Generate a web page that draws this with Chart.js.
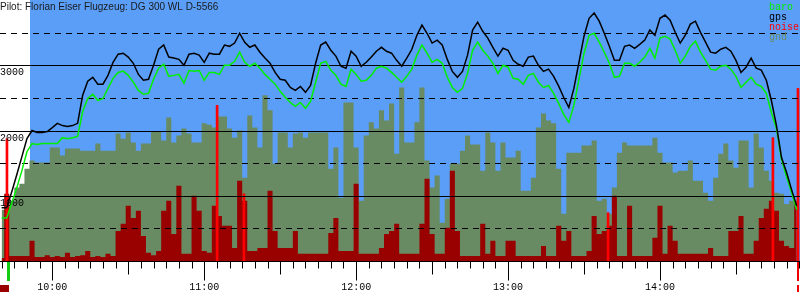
<!DOCTYPE html>
<html>
<head>
<meta charset="utf-8">
<script src="https://cdn.jsdelivr.net/npm/chart.js@4/dist/chart.umd.min.js"></script>
<style>
  html, body { margin: 0; padding: 0; background: #fff; }
  #wrap { width: 800px; height: 300px; }
</style>
</head>
<body>
<div id="wrap"><canvas id="baroChart" width="800" height="300"></canvas></div>
<script>
// Barogramm - Zeit in Minuten seit 0:00, Hoehen in m
const qs = s => document.querySelector(s);

const title = "Pilot: Florian Eiser Flugzeug: DG 300 WL D-5566";
const tStart = 580, tStep = 2;          // Abtastung alle 2 min ab 9:40
const xMin = 579.35, xMax = 895.3;
const releaseTime = 591.2;              // ab hier blauer Himmel
const takeoffTime = 582.5, landingTime = 894.5;

const gps = [815, 815, 1060, 1325, 1600, 1875, 2000, 1970, 1970, 1985,
  2045, 2110, 2075, 2060, 2075, 2110, 2540, 2755, 2815, 2710,
  2710, 2845, 3045, 3170, 3185, 3125, 3030, 2860, 2770, 2785,
  3000, 3245, 3310, 3125, 3110, 3090, 3000, 3170, 3185, 3155,
  3045, 3185, 3170, 3170, 3310, 3290, 3340, 3490, 3350, 3275,
  3310, 3200, 3110, 3030, 2890, 2785, 2770, 2660, 2615, 2675,
  2585, 2690, 3030, 3310, 3355, 3230, 3140, 2985, 2955, 3215,
  3140, 2985, 3045, 3125, 3215, 3275, 3215, 3185, 3075, 2985,
  3110, 3245, 3460, 3615, 3490, 3340, 3385, 3310, 3090, 2905,
  2815, 2905, 3155, 3540, 3660, 3520, 3415, 3275, 3140, 3260,
  3230, 3075, 3015, 2985, 3125, 3140, 3000, 2905, 2940, 2830,
  2680, 2505, 2355, 2645, 3045, 3445, 3720, 3800, 3675, 3490,
  3290, 3075, 3075, 3290, 3310, 3260, 3320, 3385, 3540, 3460,
  3720, 3770, 3690, 3505, 3340, 3460, 3630, 3675, 3505, 3355,
  3200, 3185, 3245, 3275, 3215, 3075, 2890, 2970, 3110, 2955,
  2925, 2770, 2460, 2075, 1585, 1355, 1090, 845];

const baro = [660, 660, 890, 1125, 1385, 1675, 1800, 1785, 1800, 1800,
  1800, 1800, 1890, 1875, 1890, 1910, 2290, 2490, 2555, 2460,
  2490, 2645, 2800, 2890, 2910, 2845, 2740, 2615, 2555, 2570,
  2785, 2955, 3015, 2830, 2845, 2860, 2725, 2920, 2910, 2920,
  2770, 2890, 2890, 2860, 3000, 3000, 3060, 3200, 3045, 2985,
  3030, 2955, 2860, 2785, 2710, 2600, 2510, 2430, 2370, 2430,
  2340, 2445, 2740, 3030, 3060, 2925, 2845, 2710, 2675, 2940,
  2860, 2755, 2770, 2845, 2955, 2985, 2955, 2890, 2815, 2740,
  2830, 2940, 3155, 3310, 3185, 3045, 3090, 3030, 2815, 2660,
  2585, 2645, 2875, 3230, 3355, 3230, 3140, 3030, 2875, 3000,
  2970, 2800, 2785, 2710, 2845, 2875, 2740, 2660, 2690, 2570,
  2415, 2245, 2125, 2385, 2785, 3185, 3460, 3490, 3355, 3200,
  3030, 2815, 2830, 3030, 3030, 2985, 3045, 3125, 3260, 3110,
  3415, 3445, 3400, 3230, 3030, 3140, 3290, 3370, 3200, 3075,
  2940, 2925, 2985, 3000, 2940, 2830, 2660, 2740, 2815, 2710,
  2675, 2570, 2275, 2030, 1555, 1290, 1045, 785];

const gnd = [785, 785, 925, 1125, 1185, 1415, 1540, 1510, 1510, 1510,
  1740, 1740, 1615, 1725, 1725, 1725, 1690, 1690, 1690, 1800,
  1690, 1690, 1690, 1955, 1875, 1970, 1815, 1690, 1800, 1800,
  1985, 1985, 1845, 2200, 1815, 1925, 2030, 1955, 1815, 1815,
  2110, 2090, 2045, 2215, 2215, 2030, 1890, 2000, 1275, 2230,
  2045, 1740, 2540, 2310, 1490, 1970, 1970, 1740, 1955, 1970,
  1890, 1970, 1970, 1970, 1970, 1415, 1740, 970, 2430, 2430,
  1740, 925, 1925, 2125, 2030, 2310, 2155, 2415, 1645, 2660,
  1815, 1815, 2125, 2660, 1540, 1125, 1310, 585, 955, 1490,
  1490, 1690, 1925, 1785, 1785, 1385, 1970, 1815, 1385, 1815,
  1585, 1585, 1690, 1075, 1075, 1275, 2045, 2260, 2155, 2110,
  1415, 725, 1660, 1660, 1660, 1770, 1770, 1845, 925, 955,
  725, 1125, 1660, 1815, 1770, 1770, 1770, 1770, 1770, 1890,
  1660, 1510, 1510, 1355, 1385, 1385, 1540, 1230, 1230, 1045,
  925, 1275, 1645, 1800, 1540, 1430, 1845, 1845, 1125, 1955,
  1740, 1385, 1230, 1045, 1030, 875, 925, 800];

const noise = [46, 1030, 75, 75, 75, 75, 310, 60, 60, 90,
  60, 75, 60, 125, 60, 75, 90, 155, 60, 75,
  60, 110, 75, 460, 570, 845, 660, 770, 385, 125,
  90, 155, 770, 925, 415, 1155, 110, 110, 1000, 770,
  155, 125, 845, 690, 540, 540, 200, 1230, 925, 155,
  155, 200, 200, 1075, 460, 200, 200, 200, 460, 110,
  110, 110, 110, 110, 110, 430, 660, 155, 155, 155,
  1185, 110, 110, 110, 110, 200, 415, 460, 570, 110,
  110, 110, 110, 570, 1260, 415, 110, 110, 510, 1385,
  460, 75, 75, 75, 75, 570, 110, 310, 75, 75,
  310, 310, 75, 75, 75, 75, 75, 230, 75, 75,
  540, 310, 460, 75, 75, 75, 155, 690, 415, 460,
  540, 1000, 75, 75, 845, 75, 75, 75, 75, 355,
  845, 110, 540, 310, 110, 110, 110, 110, 110, 110,
  200, 75, 75, 75, 460, 460, 690, 110, 110, 310,
  660, 800, 925, 770, 310, 230, 200, 925];

// einzelne helle Laermspitzen
const spikeTimes = [582.1, 665.1, 675.7, 819.5, 884.6, 894.5];
const spikeValues = [1875, 2385, 1030, 740, 1890, 2645];

const yGrid = [500, 1000, 1500, 2000, 2500, 3000, 3500];
const hourLabels = ["10:00", "11:00", "12:00", "13:00", "14:00"];

const times = gps.map((_, i) => tStart + i * tStep);
const pts = arr => arr.map((v, i) => ({ x: times[i], y: v }));

const COL = { sky: "#5a9ef7", gnd: "#698b63", noise: "#990000", spike: "#ff0000", baro: "#00ee00", gps: "#000000" };
const MONO = "10px 'Liberation Mono', 'DejaVu Sans Mono', monospace";

/* ---------- sky background after release ---------- */
const skyPlugin = {
  id: "sky",
  beforeDatasetsDraw(chart) {
    const { ctx, chartArea: a, scales: { x } } = chart;
    const x0 = x.getPixelForValue(releaseTime);
    ctx.save();
    ctx.fillStyle = COL.sky;
    ctx.fillRect(x0, a.top, a.right - x0, a.bottom - a.top);
    ctx.restore();
  }
};

/* ---------- grid over ground/noise, under the lines ---------- */
const gridPlugin = {
  id: "grid",
  beforeDatasetDraw(chart, args) {
    if (chart.data.datasets[args.index].label !== "baro") return;
    const { ctx, chartArea: a, scales: { y } } = chart;
    ctx.save();
    ctx.strokeStyle = "#000";
    ctx.lineWidth = 1;
    ctx.font = MONO;
    ctx.fillStyle = "#000";
    ctx.textBaseline = "top";
    yGrid.forEach(v => {
      const py = Math.round(y.getPixelForValue(v)) + 0.5;
      const major = v % 1000 === 0;
      ctx.setLineDash(major ? [] : [6, 5]);
      ctx.beginPath();
      ctx.moveTo(a.left, py);
      ctx.lineTo(a.right, py);
      ctx.stroke();
      if (major) ctx.fillText(String(v), 0, py + 2);
    });
    ctx.restore();
  }
};

/* ---------- time axis, title, legend, markers ---------- */
const framePlugin = {
  id: "frame",
  afterDraw(chart) {
    const { ctx, chartArea: a, scales: { x } } = chart;
    const by = a.bottom + 0.5;
    ctx.save();
    ctx.strokeStyle = "#000";
    ctx.lineWidth = 1;
    ctx.beginPath();
    ctx.moveTo(0, by);
    ctx.lineTo(chart.width, by);
    ctx.stroke();

    for (let t = Math.ceil(xMin / 5) * 5; t <= xMax; t += 5) {
      const px = Math.round(x.getPixelForValue(t)) + 0.5;
      const len = t % 60 === 0 ? 19 : (t % 30 === 0 ? 13 : 7);
      ctx.beginPath();
      ctx.moveTo(px, by);
      ctx.lineTo(px, by + len);
      ctx.stroke();
    }

    ctx.fillStyle = "#000";
    ctx.font = MONO;
    ctx.textAlign = "center";
    ctx.textBaseline = "middle";
    hourLabels.forEach(lbl => {
      const [h, m] = lbl.split(":").map(Number);
      ctx.fillText(lbl, x.getPixelForValue(h * 60 + m), 287);
    });

    // takeoff / landing markers
    const tx = Math.round(x.getPixelForValue(takeoffTime));
    ctx.fillStyle = "#11cc11";
    ctx.fillRect(tx - 1, a.bottom + 1, 3, 19);
    const lx = Math.round(x.getPixelForValue(landingTime));
    ctx.fillStyle = "#ee0000";
    ctx.fillRect(lx - 1, a.bottom + 1, 2, 19);
    ctx.fillRect(lx - 1, 285, 2, 7);
    ctx.fillStyle = COL.noise;
    ctx.fillRect(0, 285, 9, 7);

    // title
    ctx.textAlign = "left";
    ctx.textBaseline = "alphabetic";
    ctx.fillStyle = "#1a1a1a";
    ctx.font = "10px 'Liberation Sans', Arial, sans-serif";
    ctx.fillText(title, 0, 10);

    // legend
    ctx.font = MONO;
    [["baro", COL.baro], ["gps", COL.gps], ["noise", COL.spike], ["gnd", COL.gnd]].forEach(([txt, c], i) => {
      ctx.fillStyle = c;
      ctx.fillText(txt, 769, 10 + i * 10);
    });
    ctx.restore();
  }
};

new Chart(qs("#baroChart"), {
  type: "bar",
  data: {
    datasets: [
      { type: "line", label: "gps", data: pts(gps), borderColor: COL.gps, borderWidth: 1.5,
        pointRadius: 0, tension: 0, fill: false, order: 1 },
      { type: "line", label: "baro", data: pts(baro), borderColor: COL.baro, borderWidth: 1.5,
        pointRadius: 0, tension: 0, fill: false, order: 2 },
      { type: "bar", label: "spikes", data: spikeTimes.map((t, i) => ({ x: t, y: spikeValues[i] })),
        backgroundColor: COL.spike, barThickness: 2, grouped: false, order: 3 },
      { type: "line", label: "noise", data: pts(noise), fill: "origin", stepped: "middle",
        backgroundColor: COL.noise, borderColor: "rgba(0,0,0,0)", borderWidth: 0,
        pointRadius: 0, order: 4 },
      { type: "line", label: "gnd", data: pts(gnd), stepped: "middle", fill: "origin",
        backgroundColor: COL.gnd, borderColor: "rgba(0,0,0,0)", borderWidth: 0,
        pointRadius: 0, order: 5 }
    ]
  },
  options: {
    responsive: false,
    animation: false,
    events: [],
    layout: { padding: { left: 0, right: 0, top: 0, bottom: 39 } },
    scales: {
      x: { type: "linear", min: xMin, max: xMax, offset: false, display: false },
      y: { type: "linear", min: 0, max: 4000, display: false }
    },
    plugins: { legend: { display: false }, tooltip: { enabled: false } }
  },
  plugins: [skyPlugin, gridPlugin, framePlugin]
});
</script>
</body>
</html>
